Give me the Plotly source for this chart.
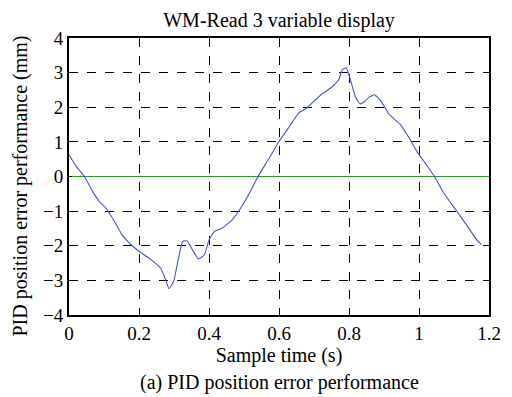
import plotly.graph_objects as go

time_s = [0, 0.02, 0.044, 0.0675, 0.085, 0.105, 0.13, 0.151, 0.175, 0.2, 0.234, 0.262, 0.275,
          0.2857, 0.299, 0.312, 0.325, 0.338, 0.355, 0.37, 0.387, 0.4, 0.415, 0.438, 0.466,
          0.494, 0.52, 0.54, 0.57, 0.6, 0.63, 0.656, 0.679, 0.72, 0.753, 0.771, 0.781, 0.792,
          0.804, 0.818, 0.831, 0.843, 0.855, 0.873, 0.892, 0.915, 0.947, 0.975, 0.998, 1.021,
          1.044, 1.072, 1.105, 1.142, 1.165, 1.179]
error_mm = [0.63, 0.3, 0.0, -0.43, -0.7, -0.91, -1.3, -1.68, -1.95, -2.16, -2.40, -2.65, -2.95,
            -3.24, -3.03, -2.4, -1.87, -1.86, -2.16, -2.38, -2.26, -1.83, -1.59, -1.49, -1.25,
            -0.86, -0.4, 0.0, 0.5, 1.01, 1.45, 1.83, 1.98, 2.36, 2.6, 2.8, 3.09, 3.14,
            2.80, 2.31, 2.10, 2.15, 2.27, 2.36, 2.17, 1.79, 1.50, 1.06, 0.66, 0.34,
            0.0, -0.5, -0.96, -1.49, -1.83, -1.97]
ref_x = [0, 1.2]
ref_y = [0, 0]
x_ticks = [0, 0.2, 0.4, 0.6, 0.8, 1, 1.2]
x_tick_text = ["0", "0.2", "0.4", "0.6", "0.8", "1", "1.2"]
y_ticks = [-4, -3, -2, -1, 0, 1, 2, 3, 4]
y_tick_text = ["\u22124", "\u22123", "\u22122", "\u22121", "0", "1", "2", "3", "4"]

font = "Liberation Serif, Times New Roman, serif"
fs = 19
ft = 20

fig = go.Figure()
fig.add_trace(go.Scatter(x=ref_x, y=ref_y, mode="lines",
                         line=dict(color="#2a9a2a", width=1.2), showlegend=False))
fig.add_trace(go.Scatter(x=time_s, y=error_mm, mode="lines",
                         line=dict(color="#4455cc", width=1.1, shape="spline", smoothing=0.4),
                         showlegend=False))

axis_common = dict(showline=True, linecolor="black", linewidth=2, mirror=True,
                   showgrid=True, gridcolor="black", griddash="dash", gridwidth=1,
                   zeroline=False, ticks="inside", ticklen=3, tickcolor="black",
                   tickfont=dict(family=font, size=fs, color="black"))

fig.update_xaxes(range=[0, 1.2], tickvals=x_ticks, ticktext=x_tick_text,
                 title=dict(text="Sample time (s)", font=dict(family=font, size=ft, color="black"),
                            standoff=4),
                 **axis_common)
fig.update_yaxes(range=[-4, 4], tickvals=y_ticks, ticktext=y_tick_text, **axis_common)

fig.update_layout(
    width=512, height=397,
    margin=dict(l=69, r=11, t=38, b=82),
    paper_bgcolor="white", plot_bgcolor="white",
    title=dict(text="WM-Read 3 variable display", x=0.545, xanchor="center", y=0.95, yanchor="middle",
               font=dict(family=font, size=ft, color="black")),
    annotations=[
        dict(text="(a) PID position error performance", xref="paper", yref="paper",
             x=0.5, y=-0.245, xanchor="center", yanchor="middle", showarrow=False,
             font=dict(family=font, size=ft, color="black")),
        dict(text="PID position error performance (mm)", xref="paper", yref="paper",
             x=0, y=0.5, xshift=-49, yshift=-10, textangle=-90,
             xanchor="center", yanchor="middle", showarrow=False,
             font=dict(family=font, size=ft, color="black")),
    ],
)

fig.write_html("out.html")
